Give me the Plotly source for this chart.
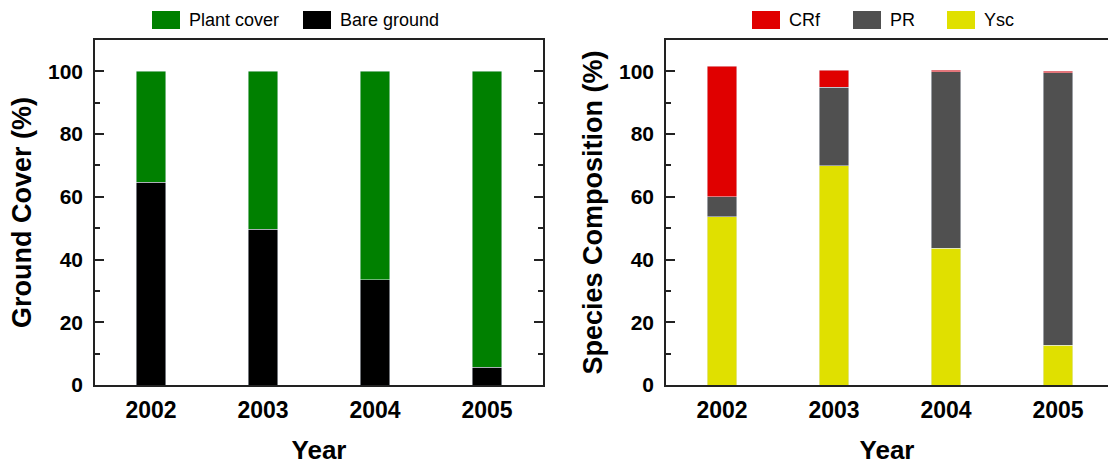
import plotly.graph_objects as go

years = ["2002", "2003", "2004", "2005"]
bare_ground = [64.7, 49.7, 33.5, 5.7]
plant_cover = [35.3, 50.3, 66.5, 94.3]
ysc = [53.6, 69.9, 43.6, 12.6]
pr = [6.4, 25.0, 56.3, 86.9]
crf = [41.7, 5.5, 0.5, 0.6]

FONT = "Liberation Sans, Arial, sans-serif"
W = 0.26
FW, FH = 1108, 465

colors = {"Bare ground": "#000000", "Plant cover": "#008000",
          "Ysc": "#e0e000", "PR": "#505050", "CRf": "#e00000"}

fig = go.Figure()
fig.add_trace(go.Bar(x=years, y=bare_ground, name="Bare ground", marker_color=colors["Bare ground"],
                     width=W, xaxis="x", yaxis="y", showlegend=False))
fig.add_trace(go.Bar(x=years, y=plant_cover, name="Plant cover", marker_color=colors["Plant cover"],
                     width=W, xaxis="x", yaxis="y", showlegend=False))
fig.add_trace(go.Bar(x=years, y=ysc, name="Ysc", marker_color=colors["Ysc"],
                     width=W, xaxis="x2", yaxis="y2", showlegend=False))
fig.add_trace(go.Bar(x=years, y=pr, name="PR", marker_color=colors["PR"],
                     width=W, xaxis="x2", yaxis="y2", showlegend=False))
fig.add_trace(go.Bar(x=years, y=crf, name="CRf", marker_color=colors["CRf"],
                     width=W, xaxis="x2", yaxis="y2", showlegend=False))

xtickfont = dict(family=FONT, size=23, color="#000", weight="bold")
ytickfont = dict(family=FONT, size=21, color="#000", weight="bold")
titlefont = dict(family=FONT, size=26, color="#000", weight="bold")

yd = [80 / FH, 425 / FH]

def xax(domain, rng):
    return dict(domain=domain, range=rng, type="category", showline=True, linecolor="#222",
                linewidth=1.5, mirror=True, ticks="", tickfont=xtickfont, ticklabelstandoff=4,
                title=dict(text="Year", font=titlefont, standoff=24), automargin=False,
                showgrid=False, zeroline=False, fixedrange=True)

def yax(domain, anchor, title, mirror):
    return dict(domain=domain, anchor=anchor, range=[0, 110], tickvals=[0, 20, 40, 60, 80, 100],
                ticks="inside", ticklen=9, tickwidth=1.5, tickcolor="#222",
                minor=dict(dtick=10, ticks="inside", ticklen=5, tickwidth=1.5, tickcolor="#222"),
                showline=True, linecolor="#222", linewidth=1.5, mirror=mirror,
                tickfont=ytickfont, ticklabelstandoff=6,
                title=dict(text=title, font=dict(family=FONT, size=27, color="#000", weight="bold"),
                           standoff=9),
                automargin=False, showgrid=False, zeroline=False)

# manual legends (swatch left edge in px, entry name)
legend_left = [(152, "Plant cover"), (303, "Bare ground")]
legend_right = [(752, "CRf"), (853, "PR"), (947, "Ysc")]
shapes, annotations = [], []
for x0, name in legend_left + legend_right:
    shapes.append(dict(type="rect", xref="paper", yref="paper",
                       x0=x0 / FW, x1=(x0 + 28) / FW, y0=(FH - 29) / FH, y1=(FH - 11) / FH,
                       fillcolor=colors[name], line=dict(width=0)))
    annotations.append(dict(text=name, xref="paper", yref="paper", x=(x0 + 35) / FW, y=(FH - 20) / FH,
                            xanchor="left", yanchor="middle", showarrow=False,
                            font=dict(family=FONT, size=18, color="#000")))

fig.update_layout(
    width=FW, height=FH,
    margin=dict(l=0, r=0, t=0, b=0),
    paper_bgcolor="white", plot_bgcolor="white",
    barmode="stack",
    xaxis=dict(xax([95 / FW, 543 / FW], [-0.5, 3.5]), anchor="y"),
    yaxis=yax(yd, "x", "Ground Cover (%)", "allticks"),
    xaxis2=dict(xax([666 / FW, 1.0], [-0.5, 3.446]), anchor="y2"),
    yaxis2=yax(yd, "x2", "Species Composition (%)", False),
    shapes=shapes, annotations=annotations,
    showlegend=False,
)

fig.write_html("out.html")
